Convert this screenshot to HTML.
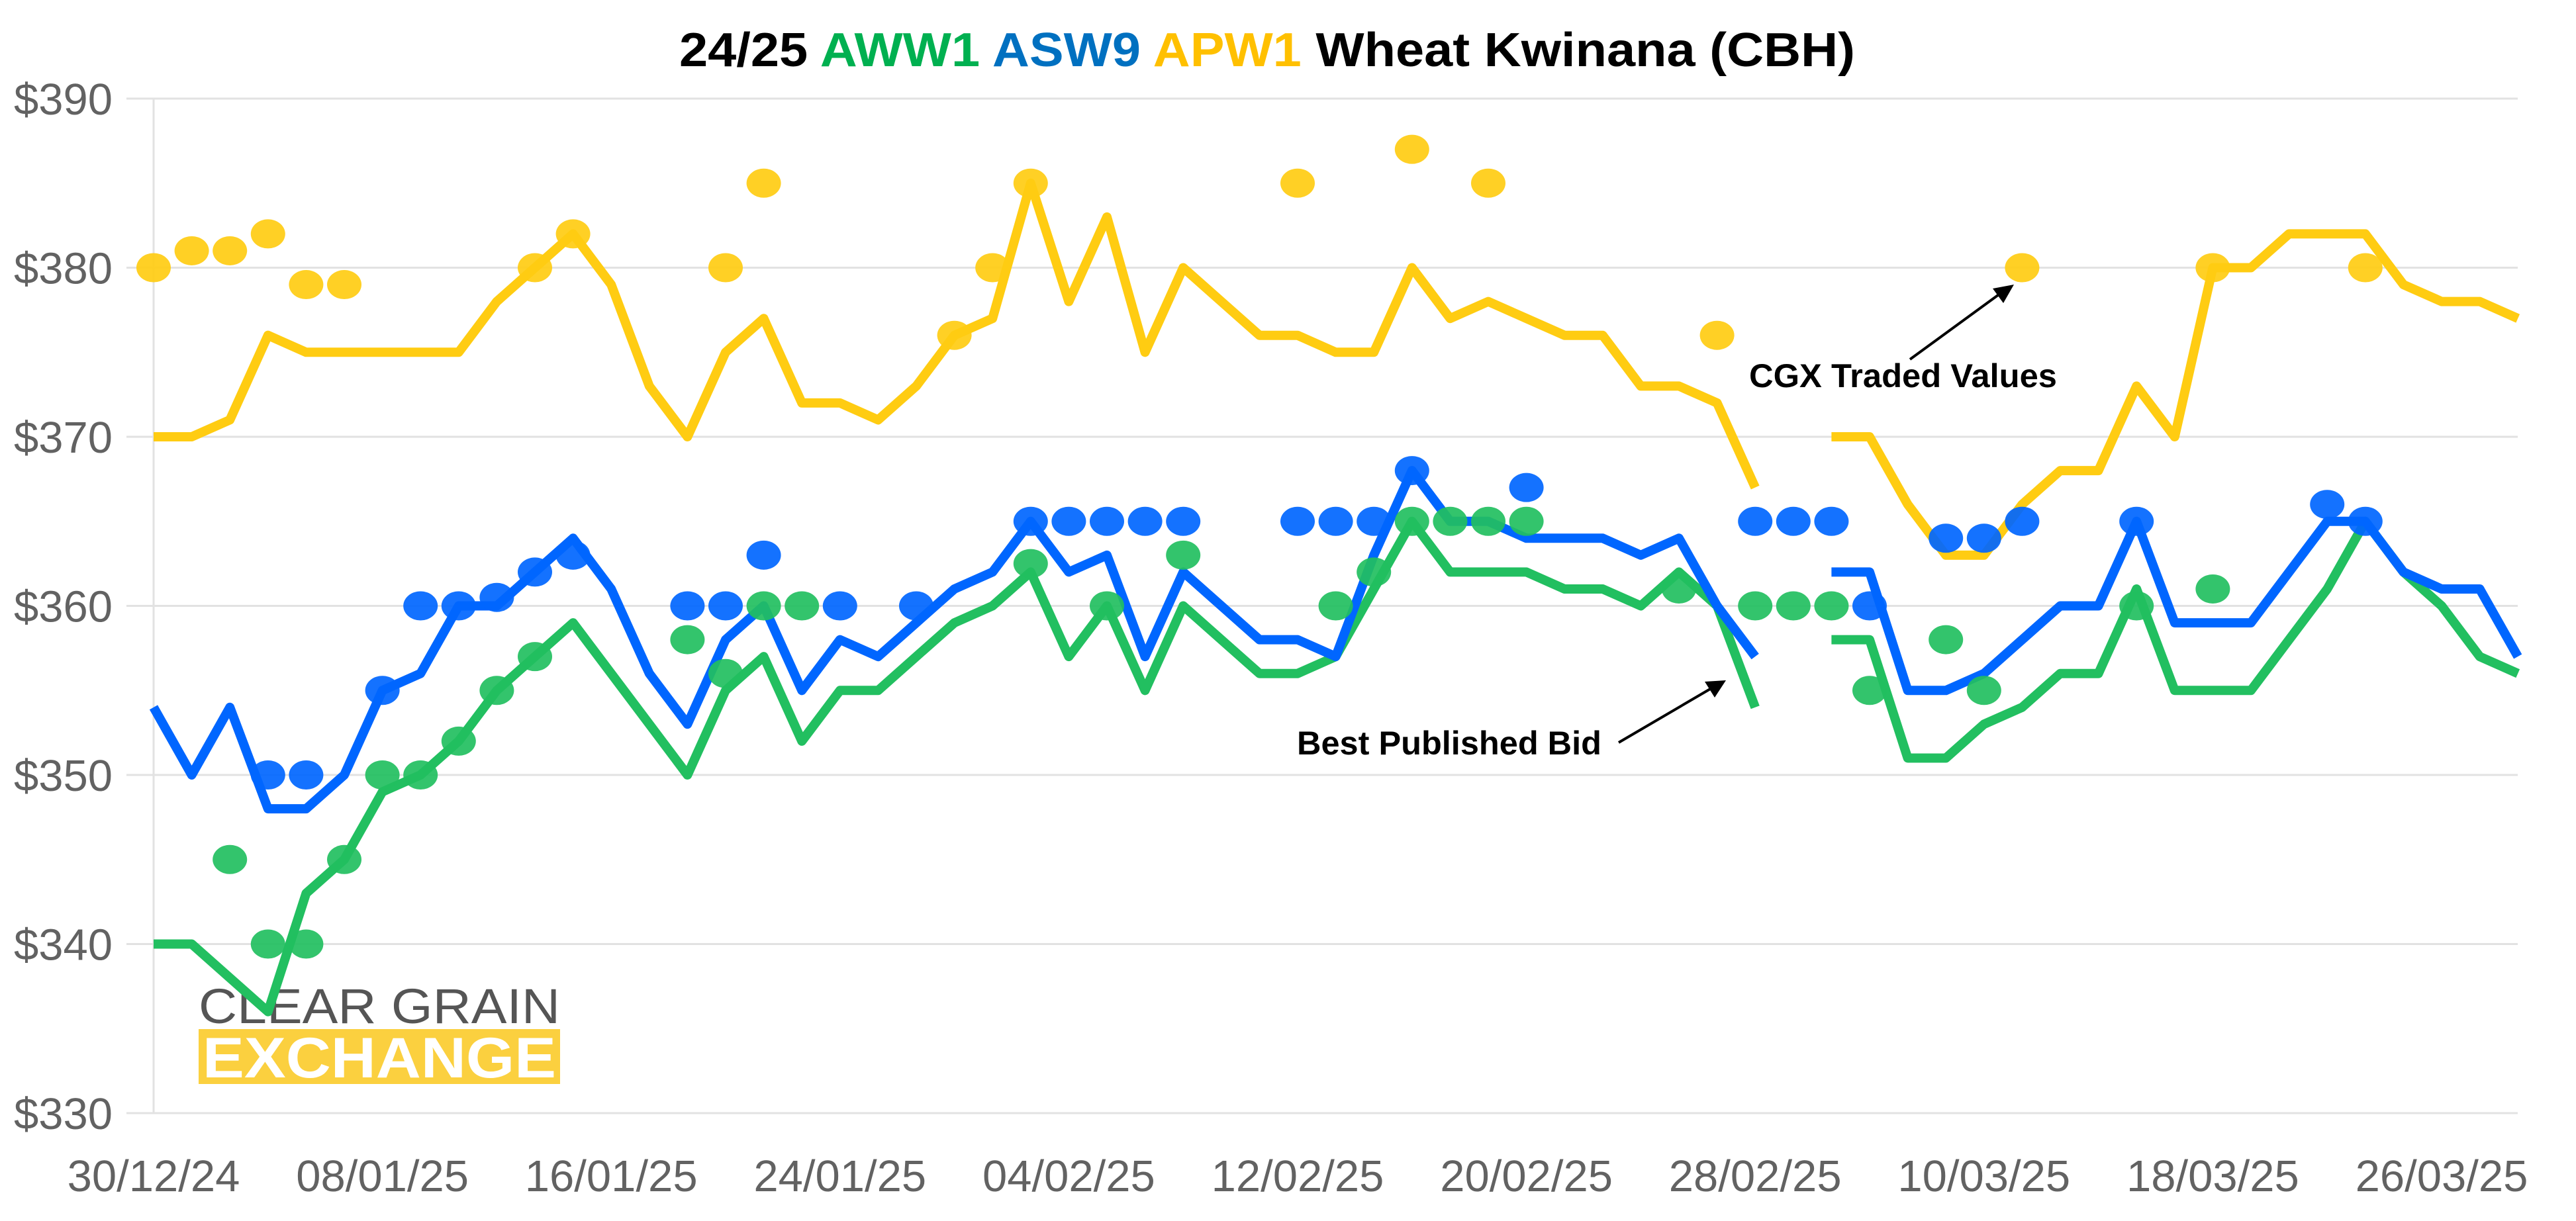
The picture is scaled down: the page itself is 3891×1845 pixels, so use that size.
<!DOCTYPE html>
<html><head><meta charset="utf-8">
<style>
html,body{margin:0;padding:0;background:#fff;}
svg{display:block;}
</style></head>
<body>
<svg id="chart" width="3891" height="1845" viewBox="0 0 3891 1845" xmlns="http://www.w3.org/2000/svg" font-family="Liberation Sans, sans-serif">
<text x="1026" y="100" font-size="72" font-weight="bold" textLength="1776" lengthAdjust="spacingAndGlyphs"><tspan fill="#000">24/25 </tspan><tspan fill="#00B050">AWW1</tspan><tspan fill="#000"> </tspan><tspan fill="#0070C0">ASW9</tspan><tspan fill="#000"> </tspan><tspan fill="#FFC000">APW1</tspan><tspan fill="#000"> Wheat Kwinana (CBH)</tspan></text>
<g id="grid"></g>
<g id="logo">
<text x="300" y="1546" font-size="74" fill="#555" textLength="546" lengthAdjust="spacingAndGlyphs">CLEAR GRAIN</text>
<rect x="300" y="1555" width="546" height="83" fill="#FBD03F"/>
<text x="306" y="1628" font-size="86" font-weight="bold" fill="#fff" textLength="534" lengthAdjust="spacingAndGlyphs">EXCHANGE</text>
</g>
<g id="series"></g>
<g id="annotations">
<text x="1959" y="1140" font-size="50" font-weight="bold" fill="#000" textLength="460" lengthAdjust="spacingAndGlyphs">Best Published Bid</text>
<line x1="2445" y1="1122" x2="2585" y2="1040" stroke="#000" stroke-width="4"/>
<polygon points="2607,1028 2575,1030 2590,1054" fill="#000"/>
<text x="2642" y="585" font-size="50" font-weight="bold" fill="#000" textLength="465" lengthAdjust="spacingAndGlyphs">CGX Traded Values</text>
<line x1="2885" y1="543" x2="3022" y2="443" stroke="#000" stroke-width="4"/>
<polygon points="3042,430 3010,436 3026,458" fill="#000"/>
</g>
</svg>
<script>
const yTicks = [330,340,350,360,370,380,390];
const xTickLabels = ["30/12/24","08/01/25","16/01/25","24/01/25","04/02/25","12/02/25","20/02/25","28/02/25","10/03/25","18/03/25","26/03/25"];
const xTickIndex = [0,6,12,18,24,30,36,42,48,54,60];
const apw1Bid = [370,370,371,376,375,375,375,375,375,378,380,382,379,373,370,375,377,372,372,371,373,376,377,385,378,383,375,380,378,376,376,375,375,380,377,378,377,376,376,373,373,372,367,null,370,370,366,363,363,366,368,368,373,370,380,380,382,382,382,379,378,378,377];
const asw9Bid = [354,350,354,348,348,350,355,356,360,360,362,364,361,356,353,358,360,355,358,357,359,361,362,365,362,363,357,362,360,358,358,357,363,368,365,365,364,364,364,363,364,360,357,null,362,362,355,355,356,358,360,360,365,359,359,359,362,365,365,362,361,361,357];
const aww1Bid = [340,340,338,336,343,345,349,350,352,355,357,359,356,353,350,355,357,352,355,355,357,359,360,362,357,360,355,360,358,356,356,357,361,365,362,362,362,361,361,360,362,360,354,null,358,358,351,351,353,354,356,356,361,355,355,355,358,361,365,362,360,357,356];
const apw1TradeIdx = [0,1,2,3,4,5,10,11,15,16,21,22,23,30,33,35,41,49,54,58];
const apw1TradeVal = [380,381,381,382,379,379,380,382,380,385,376,380,385,385,387,385,376,380,380,380];
const asw9TradeIdx = [3,4,6,7,8,9,10,11,14,15,16,18,20,23,24,25,26,27,30,31,32,33,36,42,43,44,45,47,48,49,52,57,58];
const asw9TradeVal = [350,350,355,360,360,360.5,362,363,360,360,363,360,360,365,365,365,365,365,365,365,365,368,367,365,365,365,360,364,364,365,365,366,365];
const aww1TradeIdx = [2,3,4,5,6,7,8,9,10,14,15,16,17,23,25,27,31,32,33,34,35,36,40,42,43,44,45,47,48,52,54];
const aww1TradeVal = [345,340,340,345,350,350,352,355,357,358,356,360,360,362.5,360,363,360,362,365,365,365,365,361,360,360,360,355,358,355,360,361];

const NS = "http://www.w3.org/2000/svg";
const X0 = 232, DX = 57.6, Y390 = 149, PER = 25.55;
function xs(i){ return X0 + DX*i; }
function ys(v){ return Y390 + (390 - v)*PER; }
function mk(tag, attrs, parent){ const e = document.createElementNS(NS, tag); for (const k in attrs) e.setAttribute(k, attrs[k]); parent.appendChild(e); return e; }

const grid = document.getElementById('grid');
yTicks.forEach(v => {
  const l = mk('line', {x1:191, x2:3803, y1:ys(v), y2:ys(v), stroke:'#e2e2e2', 'stroke-width':3}, grid);
  
  
  const t = mk('text', {x:170, y:ys(v)+24, 'text-anchor':'end', 'font-size':67, fill:'#626262'}, grid);
  t.textContent = '$' + v;
  
  
});
const ax = mk('line', {x1:X0, x2:X0, y1:ys(390), y2:ys(330), stroke:'#e2e2e2', 'stroke-width':3}, grid);


xTickLabels.forEach((lab, k) => {
  const t = mk('text', {x:xs(xTickIndex[k]), y:1800, 'text-anchor':'middle', 'font-size':67, fill:'#626262'}, grid);
  t.textContent = lab;
  
  
});

const sg = document.getElementById('series');
function drawLine(vals, color, name){
  let d = '', pen = false;
  vals.forEach((v, i) => {
    if (v === null) { pen = false; return; }
    d += (pen ? 'L' : 'M') + xs(i).toFixed(1) + ' ' + ys(v).toFixed(1) + ' ';
    pen = true;
  });
  const p = mk('path', {d:d, fill:'none', stroke:color, 'stroke-width':14, 'stroke-linejoin':'round'}, sg);
  
  
}
function drawDots(idx, vals, color, name){
  idx.forEach((i, k) => {
    const c = mk('ellipse', {cx:xs(i), cy:ys(vals[k]), rx:26, ry:22, fill:color, 'fill-opacity':0.92}, sg);
    
    
  });
}
drawLine(apw1Bid, '#FFCC12', 'apw1-best-bid-line');
drawLine(aww1Bid, '#22BF60', 'aww1-best-bid-line');
drawLine(asw9Bid, '#0066FF', 'asw9-best-bid-line');
drawDots(apw1TradeIdx, apw1TradeVal, '#FFCC12', 'apw1-traded-point');
drawDots(aww1TradeIdx, aww1TradeVal, '#22BF60', 'aww1-traded-point');
drawDots(asw9TradeIdx, asw9TradeVal, '#0066FF', 'asw9-traded-point');
</script>
</body></html>
